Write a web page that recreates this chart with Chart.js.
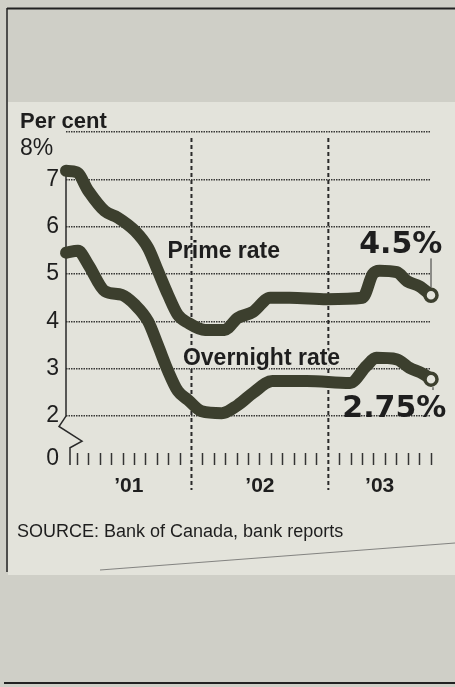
<!DOCTYPE html>
<html>
<head>
<meta charset="utf-8">
<script src="https://cdn.jsdelivr.net/npm/chart.js@4.4.1/dist/chart.umd.min.js"></script>
<style>
  html, body { margin: 0; padding: 0; background: #cfcfc7; }
  #chart { display: block; }
</style>
</head>
<body>
<canvas id="chart" width="455" height="687"></canvas>
<script>
// DATA (months counted from the y axis)
const primeMonths = [0, 0.95, 1.95, 3.4, 4.55, 6.05, 7.2, 8.05, 8.95, 9.8, 10.7, 12.2, 13.9, 15.05, 16.4, 17.9, 19.6, 22.9, 26.0, 26.9, 27.5, 29.0, 29.9, 31.0, 32];
const primeRates = [7.18, 7.15, 6.76, 6.33, 6.19, 5.91, 5.55, 5.07, 4.56, 4.14, 3.97, 3.82, 3.82, 4.07, 4.2, 4.5, 4.5, 4.47, 4.5, 5.0, 5.07, 5.04, 4.85, 4.74, 4.55];

const overnightMonths = [0, 1.05, 1.95, 3.4, 4.9, 6.05, 7.2, 8.05, 8.95, 9.8, 10.7, 11.9, 13.65, 15.05, 16.4, 18.1, 21.1, 24.9, 26.35, 27.2, 29.0, 30.1, 31.25, 32];
const overnightRates = [5.45, 5.49, 5.2, 4.64, 4.56, 4.35, 4.0, 3.5, 2.95, 2.53, 2.34, 2.1, 2.06, 2.23, 2.49, 2.74, 2.74, 2.7, 3.06, 3.23, 3.2, 3.02, 2.9, 2.78];

const yearLabels = ["\u201901", "\u201902", "\u201903"];
const yearBounds = [0, 11, 23, 32];
const yTickValues = [2, 3, 4, 5, 6, 7, 8];
const monthTicks = Array.from({length: 33}, (_, i) => i);

const INK = "#3c3f2e";
const PAPER = "#e3e3db";
const TEXT = "#1e1e1e";
const SANS = "'Liberation Sans', Arial, sans-serif";

const pts = (xs, ys) => xs.map((x, i) => ({x: x, y: ys[i]}));
const lastPoint = c => c.dataIndex === c.dataset.data.length - 1;

// page, frame and labels
const decor = {
    id: "decor",
    beforeDraw(chart) {
        const c = chart.ctx;
        c.save();
        c.fillStyle = "#cfcfc7";
        c.fillRect(0, 0, 455, 687);
        c.fillStyle = PAPER;
        c.fillRect(8, 102, 447, 473);

        c.strokeStyle = "#222";
        c.lineWidth = 2;
        c.beginPath(); c.moveTo(7, 8.5); c.lineTo(455, 8.5); c.stroke();
        c.beginPath(); c.moveTo(4, 683); c.lineTo(455, 683); c.stroke();
        c.lineWidth = 1.5;
        c.beginPath(); c.moveTo(7, 8); c.lineTo(7, 572); c.stroke();

        c.strokeStyle = "rgba(90,90,90,0.7)";
        c.lineWidth = 1;
        c.beginPath(); c.moveTo(100, 570); c.lineTo(455, 543); c.stroke();

        c.fillStyle = TEXT;
        c.textBaseline = "alphabetic";
        c.font = "bold 22px " + SANS;
        c.fillText("Per cent", 20, 128);
        c.font = "18px " + SANS;
        c.fillText("SOURCE: Bank of Canada, bank reports", 17, 537);
        c.restore();
    },
    beforeDatasetsDraw(chart) {
        const c = chart.ctx, x = chart.scales.x, y = chart.scales.y, a = chart.chartArea;
        c.save();
        // year dividers
        c.strokeStyle = "#2a2a2a";
        c.lineWidth = 2;
        c.setLineDash([4, 3]);
        [yearBounds[1], yearBounds[2]].forEach(v => {
            const px = x.getPixelForValue(v);
            c.beginPath(); c.moveTo(px, a.top + 6); c.lineTo(px, a.bottom + 37); c.stroke();
        });
        c.setLineDash([]);
        // y axis with break
        const ax = a.left;
        c.lineWidth = 1.5;
        c.strokeStyle = "#2a2a2a";
        c.beginPath();
        c.moveTo(ax, y.getPixelForValue(7.25));
        c.lineTo(ax, y.getPixelForValue(2));
        c.lineTo(ax - 7, y.getPixelForValue(1.78));
        c.lineTo(ax + 16, y.getPixelForValue(1.47));
        c.lineTo(ax + 4, y.getPixelForValue(1.33));
        c.lineTo(ax + 4, a.bottom + 12);
        c.stroke();
        c.restore();
    },
    afterDatasetsDraw(chart) {
        const c = chart.ctx, x = chart.scales.x, y = chart.scales.y, a = chart.chartArea;
        c.save();
        c.fillStyle = TEXT;
        // y labels not on the gridline
        c.font = "23px " + SANS;
        c.textAlign = "left";
        c.textBaseline = "alphabetic";
        c.fillText("8%", 20, 155);
        c.textAlign = "right";
        c.textBaseline = "middle";
        c.fillText("0", a.left - 7, a.bottom + 6);

        // year labels
        c.font = "bold 21px " + SANS;
        c.textAlign = "center";
        c.textBaseline = "alphabetic";
        yearLabels.forEach((lab, i) => {
            const mid = (yearBounds[i] + yearBounds[i + 1]) / 2;
            c.fillText(lab, x.getPixelForValue(mid), a.bottom + 39);
        });

        // leader lines to end labels
        const px = x.getPixelForValue(primeMonths[primeMonths.length - 1]);
        c.strokeStyle = "#333";
        c.lineWidth = 1;
        c.beginPath();
        c.moveTo(px, y.getPixelForValue(primeRates[primeRates.length - 1]) - 8);
        c.lineTo(px, y.getPixelForValue(5.33));
        c.stroke();
        c.beginPath();
        c.moveTo(px + 2, y.getPixelForValue(overnightRates[overnightRates.length - 1]) + 8);
        c.lineTo(px + 2, y.getPixelForValue(2.55));
        c.stroke();

        // series labels
        c.textAlign = "left";
        c.font = "bold 23px " + SANS;
        c.fillText("Prime rate", x.getPixelForValue(8.9), y.getPixelForValue(5.34));
        c.lineWidth = 4;
        c.strokeStyle = PAPER;
        c.lineJoin = "round";
        const ox = x.getPixelForValue(10.25), oy = y.getPixelForValue(3.08);
        c.strokeText("Overnight rate", ox, oy);
        c.fillText("Overnight rate", ox, oy);

        c.textAlign = "right";
        c.font = "bold 30px 'DejaVu Sans', " + SANS;
        c.fillText("4.5%", x.getPixelForValue(33.0), y.getPixelForValue(5.44));
        c.fillText("2.75%", x.getPixelForValue(33.35), y.getPixelForValue(1.98));
        c.restore();
    }
};

const lineStyle = {
    borderColor: INK,
    borderWidth: 12,
    borderCapStyle: "round",
    borderJoinStyle: "round",
    cubicInterpolationMode: "monotone",
    clip: false,
    pointRadius: c => lastPoint(c) ? 6 : 0,
    pointBorderWidth: 3.5,
    pointBorderColor: INK,
    pointBackgroundColor: PAPER,
    pointHoverRadius: 0
};

new Chart(document.getElementById("chart"), {
    type: "line",
    data: {
        datasets: [
            Object.assign({label: "Prime rate", data: pts(primeMonths, primeRates)}, lineStyle),
            Object.assign({label: "Overnight rate", data: pts(overnightMonths, overnightRates)}, lineStyle)
        ]
    },
    options: {
        responsive: false,
        animation: false,
        events: [],
        layout: { padding: { left: 0, top: 132, right: 24, bottom: 234 } },
        plugins: { legend: { display: false }, tooltip: { enabled: false } },
        scales: {
            x: {
                type: "linear",
                min: 0,
                max: 32,
                afterBuildTicks: s => { s.ticks = monthTicks.map(v => ({value: v})); },
                afterFit: s => { s.height = 0; },
                ticks: { display: false },
                border: { display: false },
                grid: {
                    drawOnChartArea: false,
                    drawTicks: true,
                    tickLength: 12,
                    tickWidth: 1.5,
                    tickColor: c => (c.tick && (c.tick.value === yearBounds[1] || c.tick.value === yearBounds[2] || c.tick.value === 0)) ? "rgba(0,0,0,0)" : "#333"
                }
            },
            y: {
                min: 1.22,
                max: 8,
                afterBuildTicks: s => { s.ticks = yTickValues.map(v => ({value: v})); },
                afterFit: s => { s.width = 66; },
                ticks: {
                    padding: 7,
                    color: TEXT,
                    font: { family: SANS, size: 23 },
                    callback: v => (v === 8 ? "" : String(v))
                },
                border: { display: false, dash: [1.5, 1] },
                grid: { drawTicks: false, color: "rgba(25,25,25,0.85)", lineWidth: 1.5 }
            }
        }
    },
    plugins: [decor]
});
</script>
</body>
</html>
